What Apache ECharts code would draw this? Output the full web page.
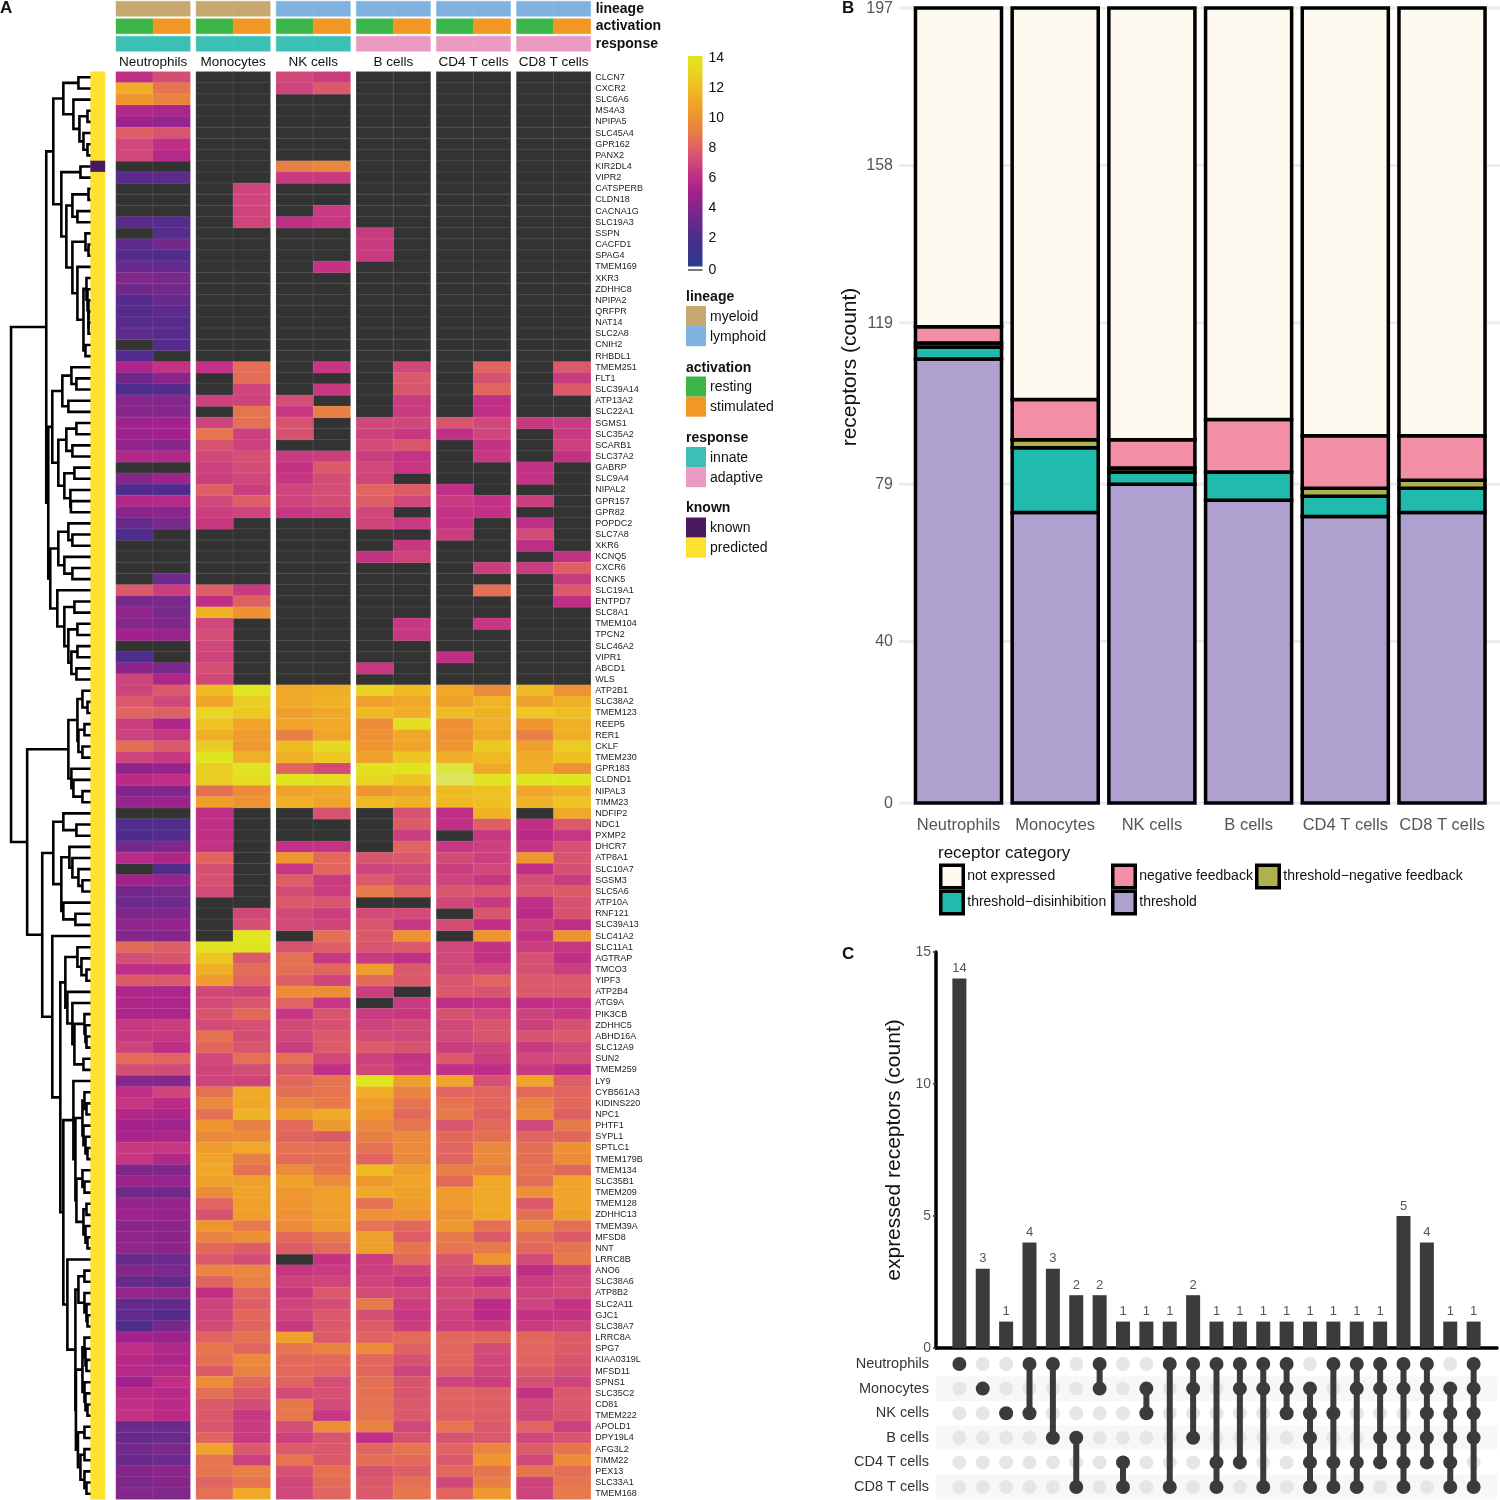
<!DOCTYPE html>
<html><head><meta charset="utf-8">
<style>html,body{margin:0;padding:0;background:#fff}#c{width:1500px;height:1500px}</style>
<script src="https://cdn.jsdelivr.net/npm/echarts@6/dist/echarts.min.js"></script>
</head><body><div id="c"></div>
<script>
const FONT = '"Liberation Sans", Arial, sans-serif';
const cellTypes = ['Neutrophils','Monocytes','NK cells','B cells','CD4 T cells','CD8 T cells'];
const lineage = ['myeloid','myeloid','lymphoid','lymphoid','lymphoid','lymphoid'];
const response = ['innate','innate','innate','adaptive','adaptive','adaptive'];
const activation = ['resting','stimulated'];
const annotationTracks = ['lineage','activation','response'];
const knownGenes = ['KIR2DL4'];
const genes = ['CLCN7','CXCR2','SLC6A6','MS4A3','NPIPA5','SLC45A4','GPR162','PANX2','KIR2DL4','VIPR2','CATSPERB','CLDN18','CACNA1G','SLC19A3','SSPN','CACFD1','SPAG4','TMEM169','XKR3','ZDHHC8','NPIPA2','QRFPR','NAT14','SLC2A8','CNIH2','RHBDL1','TMEM251','FLT1','SLC39A14','ATP13A2','SLC22A1','SGMS1','SLC35A2','SCARB1','SLC37A2','GABRP','SLC9A4','NIPAL2','GPR157','GPR82','POPDC2','SLC7A8','XKR6','KCNQ5','CXCR6','KCNK5','SLC19A1','ENTPD7','SLC8A1','TMEM104','TPCN2','SLC46A2','VIPR1','ABCD1','WLS','ATP2B1','SLC38A2','TMEM123','REEP5','RER1','CKLF','TMEM230','GPR183','CLDND1','NIPAL3','TIMM23','NDFIP2','NDC1','PXMP2','DHCR7','ATP8A1','SLC10A7','SGSM3','SLC5A6','ATP10A','RNF121','SLC39A13','SLC41A2','SLC11A1','AGTRAP','TMCO3','YIPF3','ATP2B4','ATG9A','PIK3CB','ZDHHC5','ABHD16A','SLC12A9','SUN2','TMEM259','LY9','CYB561A3','KIDINS220','NPC1','PHTF1','SYPL1','SPTLC1','TMEM179B','TMEM134','SLC35B1','TMEM209','TMEM128','ZDHHC13','TMEM39A','MFSD8','NNT','LRRC8B','ANO6','SLC38A6','ATP8B2','SLC2A11','GJC1','SLC38A7','LRRC8A','SPG7','KIAA0319L','MFSD11','SPNS1','SLC35C2','CD81','TMEM222','APOLD1','DPY19L4','AFG3L2','TIMM22','PEX13','SLC33A1','TMEM168'];
// log2 expression, gene by (cell type x resting/stimulated); 0 = not expressed
const expression = [
[6,7.2,0,0,7,6.6,0,0,0,0,0,0],
[11.2,8.6,0,0,6.8,7.6,0,0,0,0,0,0],
[10,9.2,0,0,0,0,0,0,0,0,0,0],
[5.5,5.3,0,0,0,0,0,0,0,0,0,0],
[4.8,4.6,0,0,0,0,0,0,0,0,0,0],
[7.8,7.5,0,0,0,0,0,0,0,0,0,0],
[7,6,0,0,0,0,0,0,0,0,0,0],
[7,5.6,0,0,0,0,0,0,0,0,0,0],
[0,0,0,0,9,9.3,0,0,0,0,0,0],
[2.5,2.6,0,0,6.5,6.5,0,0,0,0,0,0],
[0,0,0,6.9,0,0,0,0,0,0,0,0],
[0,0,0,6.9,0,0,0,0,0,0,0,0],
[0,0,0,6.9,0,6.5,0,0,0,0,0,0],
[2.5,2.4,0,6.9,5.9,6.3,0,0,0,0,0,0],
[0,2.3,0,0,0,0,6.5,0,0,0,0,0],
[2.7,3.4,0,0,0,0,6.5,0,0,0,0,0],
[2.3,2.2,0,0,0,0,6.5,0,0,0,0,0],
[3,2.9,0,0,0,6.2,0,0,0,0,0,0],
[3.8,3.6,0,0,0,0,0,0,0,0,0,0],
[3.3,3.3,0,0,0,0,0,0,0,0,0,0],
[2.3,3,0,0,0,0,0,0,0,0,0,0],
[2.3,2.6,0,0,0,0,0,0,0,0,0,0],
[2.4,2.4,0,0,0,0,0,0,0,0,0,0],
[2.6,2.4,0,0,0,0,0,0,0,0,0,0],
[0,2.4,0,0,0,0,0,0,0,0,0,0],
[2.2,0,0,0,0,0,0,0,0,0,0,0],
[5.3,6.2,6.1,8.4,0,6.3,0,7,0,8,0,7.6],
[3.3,4.2,0,8.3,0,0,0,7.6,0,7.4,0,6.5],
[2,2.3,0,6.9,0,6.4,0,7.5,0,8,0,7.6],
[4,4,6.7,6.8,7.2,0,0,6.5,0,6,0,0],
[4,4,0,8.6,6.4,9,0,6.5,0,6,0,0],
[4.9,5,6.8,8.5,7.4,0,7,7,7.5,7,6.4,6.5],
[4.9,5,8.6,6.7,7.4,0,6.8,6.4,6,7,0,6.5],
[4.4,4,7.4,6.7,0,0,7.1,7.5,0,6.2,0,6.7],
[5.5,5.5,7,7.3,6.5,6.6,6.6,6.2,0,6.4,0,6.1],
[0,0,6.7,7.2,6.2,7.6,7,6.3,0,0,6.1,0],
[4,4.7,6.6,7,6.3,7.2,6.9,0,0,0,6.2,0],
[2.2,2.2,7.8,6.6,6.9,7.2,8,7.7,6,0,0,0],
[5.5,5.6,7,7.8,6.8,7.2,7.8,7,6.5,6.1,6.6,0],
[4.2,4.2,6.6,6.9,6.3,6.6,7,0,6.1,6.1,0,0],
[3,3.6,6.4,0,0,0,6.9,6.5,6.2,0,5.9,0],
[2,0,0,0,0,0,0,0,6.6,0,7.1,0],
[0,0,0,0,0,0,0,6.4,0,0,5.9,0],
[0,0,0,0,0,0,6.2,6.9,0,0,0,6.1],
[0,0,0,0,0,0,0,0,0,6.6,6.5,7.8],
[0,3.2,0,0,0,0,0,0,0,0,0,6.5],
[7.6,6.6,7.8,6.5,0,0,0,0,0,8.4,0,7.6],
[3.6,3.6,6,7.9,0,0,0,0,0,0,0,6],
[4.4,3.6,11.4,9.8,0,0,0,0,0,0,0,0],
[4,3.8,7,0,0,0,0,6.4,0,6.3,0,0],
[5,4.6,7.2,0,0,0,0,6.4,0,0,0,0],
[0,0,7,0,0,0,0,0,0,0,0,0],
[2.1,0,6.8,0,0,0,0,0,6,0,0,0],
[4.2,3.6,7.3,0,0,0,6.4,0,0,0,0,0],
[6.8,5.4,7,0,0,0,0,0,0,0,0,0],
[6.8,7.6,11.8,14,11,11.2,12.8,11.8,11,9.5,11.8,9.8],
[7.6,7,10.8,12.6,11,11.4,10.6,11,10.7,11.5,10.7,11.3],
[8,7.9,13,12.4,10.5,11,11.8,11.2,11.8,11.4,12.3,11.9],
[6.6,5.4,12.2,10.8,10.8,11,9.6,13.5,9.8,11.3,10,11.3],
[6.8,6.4,11.3,10.3,9,10.8,9.8,11,9.8,11,9,11.3],
[8.4,7.6,12.6,10.2,11.8,13.2,10,10.8,10,12.4,10.5,12.5],
[6.8,6.4,14,11.3,11.3,12.4,10.6,12.2,11.2,11.7,11.1,12],
[4.3,4.5,12.6,14,8,7.1,13.7,14,14.5,11,11.2,9.8],
[5.8,6,12.6,13.3,14,13.4,13,12.2,15,13.8,14,14],
[3.9,3.9,8.4,9.6,10.7,11,10,10.7,11.8,12,10.8,11.3],
[4.6,4.8,10.6,9.9,11.3,10.8,11.7,11.4,11.7,12,11.4,12.2],
[0,0,6,0,0,7.4,0,7.4,6,11.4,0,11],
[2.2,2.2,6,0,0,0,0,7.7,6,7.8,6,7.6],
[2,2.2,6,0,0,0,0,6.6,0,6.4,5.8,6.3],
[3.4,3.8,6.2,0,6.1,6.2,0,8,6.3,6.7,6.2,7.3],
[5.7,5.4,8,0,10,8.2,7.5,7.6,7.1,6.7,10,7.5],
[0,2.1,7.3,0,6.3,8.1,6.8,7,6.6,7,6,7.3],
[5,4.6,7.4,0,7.8,6.5,7.6,7,6.8,6.4,7.2,6.6],
[3.4,3.5,7.1,0,7.2,6.6,8.8,7.9,7.5,7.5,7.5,7.7],
[3.2,3.2,0,0,7.6,7.5,0,0,7,6.5,6,7.4],
[3.8,3.8,0,7,7.1,6.6,7.1,7.1,0,7.5,5.8,7.4],
[4.4,4.5,0,7.3,7.1,6.9,7.5,6.3,7.2,6,6.6,5.9],
[3.9,3.9,0,14,0,8.4,7.6,9.8,0,10,6.1,9.9],
[8.3,7.8,13.8,14,7.4,7.8,7.5,7.6,7,6.2,6.6,6.3],
[7.2,7.5,12.3,7.6,8.5,6.4,6.5,6,7,6.1,7.3,6],
[5.9,6,11.3,8.3,8.4,8.1,10.5,7.6,7,6.8,7.3,6.6],
[7.7,7.6,10.3,8,7.8,6.9,8.3,7.6,7.5,8,7.6,7.6],
[5.4,5.3,7,6.8,9.6,9.7,6.6,0,7.6,7.5,7.6,7.6],
[5.4,5.3,7.1,7.5,8,6.3,0,6.5,5.9,6.2,6,6.2],
[5.4,5.3,7.5,8.2,6.3,7.5,6.5,6.4,7.4,7,6.8,6.4],
[6.4,6.6,7.1,7.3,7.1,7.3,6.8,7.1,7,7.5,6.7,7.3],
[6.4,6.4,8.5,7.2,7,7.6,7.1,7,7.1,7.5,7.4,7.6],
[6.8,5.9,8.1,7.5,6.6,7.7,7.6,7.4,6.6,6.8,6.5,7],
[8.3,8,7,8.4,8.4,7,6.7,6.2,7.6,6.6,7,7.2],
[7.2,7.1,6.9,7.2,7.6,6,7,6.3,6,5.9,6.5,5.9],
[4,4,6.8,6.8,8.1,8.6,14,10.6,10.8,7.3,10.8,7.8],
[5.9,6.9,8.5,11,8.4,8.6,11.2,9.2,8,8,8.2,8],
[6.3,5.8,9.4,11,9.2,8.8,10.4,8.6,8.6,8.1,9.2,8.2],
[5.5,5.4,8.5,11.5,10.2,11,10,8.2,8.8,7.9,9.6,7.9],
[5.1,4.9,10,9,8.2,10.2,9.4,8.6,7.5,8.2,7,8.8],
[5.2,5.4,9.5,9.6,8,7.7,9,9.5,8.2,8.4,8,8.1],
[6.4,6.3,10.3,11,8.5,8.5,8.5,9.5,8,9.4,8.4,9.8],
[6.3,5.5,10.8,9,8.3,8.4,8,9.4,8,9.4,8.4,9.6],
[3.8,3.8,11,8.5,9.6,8.6,11.8,10.5,9,9,8.6,8.2],
[4.8,4.6,10.7,10.6,10.7,9.6,10.2,10.8,8.2,11,8.3,10.8],
[3.3,3.3,9.6,10.8,10,10.6,11,10.7,10.3,11,9.8,10.8],
[4.5,4.5,8,10.6,10,10.5,8.5,10.4,10.3,11,7.6,10.8],
[4.8,4.6,7.4,10.5,9.8,10.4,9.8,10,9.8,11,8.4,10.6],
[4.2,4.2,10,8.8,9.6,10.3,8.6,8.1,10.2,8.4,9.4,8.4],
[4.4,4.2,9.2,9.8,8.2,8.8,10.5,7.8,8.8,7.7,8.4,7.7],
[4.3,4.2,8.2,7.8,7.7,8.3,10.5,8.6,8.6,8.8,8.2,8.6],
[3,3.2,7.6,7.2,0,6.2,6.6,8.2,7.5,9.9,7.1,8.8],
[4,3.7,9.3,9.3,6.3,6.5,6.6,6.9,7.3,7.2,5.9,6.8],
[3,2.8,8,9.1,6.8,6.9,6.9,6.4,6.9,6.2,6.6,7],
[4.6,4.4,6,8,6.4,7.6,7.1,7,7.1,7.2,6.8,7.1],
[2.8,2.9,6.8,7.8,6.9,7.2,8.8,6.6,7,5.8,6.8,6.2],
[2.8,2.4,6.8,8.1,6.8,7.6,7.3,6.3,6.7,5.8,6.2,6.2],
[2,3.5,7.1,8,6.4,7.6,7.7,6.6,6.7,6.5,6.5,6.8],
[5,4.8,8,8.5,10.5,7.7,8,8.3,8.1,8.1,8.1,7.7],
[5.9,5.5,8.7,8,8.6,9.2,9.5,7.9,8,7.2,8,7.7],
[5.7,5.3,8.4,9.4,8.2,8.2,8.1,7.4,8.1,7,8,7.5],
[5.6,5.6,7.7,9.2,8.2,8,8.1,6.8,7.8,6.9,7.7,7.3],
[5,6,9.6,8.2,8,7.2,8.4,7.5,6.9,6.6,7.3,6.8],
[5.8,5.7,8.4,7.6,7.1,7.3,8.5,7.5,8,7.9,6.2,7.6],
[6,5.8,7.6,7.2,8.7,7.1,8.5,7.6,7.9,7.8,7,7.6],
[6.1,5.8,7.6,6.4,8.7,6.4,8.6,7.6,7.8,7.8,7,7.5],
[3.1,3.1,7.5,6.5,7.2,9.7,9.2,7,8.6,7.6,8,6.7],
[3,3.1,8,6.5,6.7,7.5,6,7.4,7.4,7.6,7,7.5],
[3.4,3.7,10.8,7.6,7.6,7.6,8,8.6,8,9.3,7.7,8.6],
[3.1,3.2,8.6,6.7,8.6,7.6,8.4,8.2,7.6,10,7,9.6],
[4,4.2,8.6,9,7.3,8.5,7.4,7.8,8.2,8.6,8.6,8.4],
[3.7,4,8,8.6,7,8.3,7.6,8.4,7,9,6.8,8.6],
[3.9,3.8,8.4,11,7,8,7.6,8.7,8,10.2,6.8,8.8]
];
// Dendrogram merges: [height, child, child]; L = a leaf, in row order
const L = 0;
const clusterA1 = [27,[12,L,L],[17,L,[11,[3,L,L],[7,L,[3,L,L]]]]];
const clusterA2 = [29,[10,L,L],[24,[18,[2,L,L],[13,L,L]],[18,[5,L,[2,L,L]],[13,L,[7,[4,L,[3,L,[2,L,[2,L,[2,L,L]]]]],[5,L,L]]]]]];
const clusterB = [38,[28,[19,L,[14,L,L]],[22,L,L]],[32,[24,[14,L,L],[18,L,L]],[26,[16,L,L],[20,L,[19.5,L,L]]]]];
const clusterC = [40,[32,[22,L,[18,L,L]],[26,L,[18,L,L]]],[33,L,[26,[16,L,L],[22,[13,L,L],[19,[13,L,L],[14,L,L]]]]]];
const clusterD = [22,[13,[8,L,[3,L,L]],[12,[6,L,L],[8,L,L]]],[19,L,[17,L,[8,L,L]]]];
const clusterE = [37,[27,L,[14,L,L]],[29,[21,L,[18,L,[12,L,[8,L,L]]]],[27,L,[15,L,L]]]];
const clusterF = [25,[13,L,[9,L,[4,L,L]]],[23,L,[18,L,[16,[6,L,[5,L,[4,L,L]]],[7,L,L]]]]];
const clusterG1 = [17,L,[15,[8,[6,L,[4,L,L]],[7,L,[5,L,[3,L,L]]]],[14,[8,L,[6,L,L]],[7,[4,L,L],[5,L,[3,L,L]]]]]];
const clusterG2 = [23,L,[15,[12,[6,L,L],[6,L,[4,L,[3,L,L]]]],[14.5,[8,[6,L,[5,L,[4,L,L]]],[6,L,[5,L,[3,L,L]]]],[12.5,[6,L,L],[10,[6,L,L],[6,L,[4,L,L]]]]]]];
const dendroRoot = [79,[44,[37,clusterA1,clusterA2],[42,clusterB,clusterC]],[63,clusterD,[48,clusterE,[38,L,[30,clusterF,[27,clusterG1,clusterG2]]]]]];
// Panel B
const thresholdCounts = [110,72,79,75,71,72];
const disinhibitionCounts = [3,16,3,7,5,6];
const thresholdNegCounts = [1,2,1,0,2,2];
const negativeCounts = [4,10,7,13,13,11];
const notExpressedCounts = [79,97,107,102,106,106];
const receptorTicks = [0,40,79,119,158,197];
// Panel C
const intersectionCounts = [14,3,1,4,3,2,2,1,1,1,2,1,1,1,1,1,1,1,1,5,4,1,1];
const intersectionSets = [[0],[1],[2],[0,2],[0,3],[3,5],[0,1],[4,5],[1,2],[0,5],[0,1,3],[0,4,5],[0,1,4],[0,1,5],[0,1,2],[1,2,3,4,5],[0,2,4,5],[0,1,4,5],[0,1,3,4],[0,1,3,4,5],[0,1,2,3,4],[1,2,3,4,5],[0,1,2,3,5]];
// Colours
const heatStops = ['#2c3e90','#3c338e','#4d2c8c','#672a8b','#85268b','#a3218c','#c12e85','#d0487a','#e0645f','#e87f45','#ee9530','#f0a828','#eec021','#e8d622','#dfe51f','#dde45a'];
const annotationColors = {myeloid:'#c8a871',lymphoid:'#7fb2e0',resting:'#3cb54a',stimulated:'#f29723',innate:'#3cc0b5',adaptive:'#eb9ac2',known:'#4a1a5e',predicted:'#fde12e'};
const categoryColors = {threshold:'#aea0cf',disinhibition:'#20bbad',thresholdNeg:'#aeb24d',negative:'#f28ea5',notExpressed:'#fffaf0'};

const grid=[],xAxis=[],yAxis=[],series=[];
const heatTop=71.7, heatH=1427.6;
const heatSeriesIdx=[], zeroSeriesIdx=[];
function addGrid(g,x,y){grid.push(g);const i=grid.length-1;xAxis.push(Object.assign({gridIndex:i},x));yAxis.push(Object.assign({gridIndex:i},y));return i;}
const noAxis={axisLine:{show:false},axisTick:{show:false},axisLabel:{show:false},splitLine:{show:false}};

cellTypes.forEach((ct,g)=>{
  const left=116+80.1*g;
  const last=g===cellTypes.length-1;
  const gi=addGrid({left,top:heatTop,width:74.2,height:heatH},
    Object.assign({},noAxis,{type:'category',data:activation,position:'top',name:ct,nameLocation:'middle',nameGap:2.5,nameTextStyle:{fontFamily:FONT,fontSize:13.5,color:'#111'}}),
    Object.assign({},noAxis,{type:'category',data:genes,inverse:true,position:'right',
      axisLabel:{show:last,interval:0,fontFamily:FONT,fontSize:9,color:'#222',margin:4.5,padding:[2,0,0,0]}}));
  const nz=[],z=[];
  genes.forEach((_,r)=>{[0,1].forEach(c=>{const v=expression[r][g*2+c];(v>0?nz:z).push([c,r,v]);});});
  const border={borderColor:'rgba(255,255,255,0.16)',borderWidth:0.6};
  series.push({type:'heatmap',xAxisIndex:gi,yAxisIndex:gi,data:z,progressive:0,itemStyle:border,emphasis:{disabled:true}});
  zeroSeriesIdx.push(series.length-1);
  series.push({type:'heatmap',xAxisIndex:gi,yAxisIndex:gi,data:nz,progressive:0,itemStyle:border,emphasis:{disabled:true}});
  heatSeriesIdx.push(series.length-1);
});
// annotation tracks
function cellRender(rows,hFrac){return function(params,api){
  const row=rows[params.dataIndex];
  const c=api.coord([row[0],row[1]]),s=api.size([1,1]);
  const h=hFrac?hFrac:s[1];
  const col=annotationColors[row[2]];
  return {type:'rect',shape:{x:c[0]-s[0]/2,y:c[1]-h/2,width:s[0],height:h},style:{fill:col,stroke:col,lineWidth:0.4}};
};}
cellTypes.forEach((ct,g)=>{
  const last=g===cellTypes.length-1;
  const gi=addGrid({left:116+80.1*g,top:-1.5,width:74.2,height:54},
    Object.assign({},noAxis,{type:'category',data:activation}),
    Object.assign({},noAxis,{type:'category',data:annotationTracks,inverse:true,position:'right',
      axisLabel:{show:last,interval:0,fontFamily:FONT,fontSize:14,fontWeight:'bold',color:'#111',margin:5,padding:[2,0,0,0]}}));
  const rows=[];
  [0,1].forEach(c=>{rows.push([c,0,lineage[g]]);rows.push([c,1,activation[c]]);rows.push([c,2,response[g]]);});
  series.push({type:'custom',xAxisIndex:gi,yAxisIndex:gi,data:rows.map(r=>[r[0],r[1]]),encode:{x:0,y:1},renderItem:cellRender(rows,15),silent:true});
});
// known strip
{
  const gi=addGrid({left:90.5,top:heatTop,width:14.5,height:heatH},
    Object.assign({},noAxis,{type:'category',data:['known']}),
    Object.assign({},noAxis,{type:'category',data:genes,inverse:true}));
  const rows=genes.map((n,r)=>[0,r,knownGenes.includes(n)?'known':'predicted']);
  series.push({type:'custom',xAxisIndex:gi,yAxisIndex:gi,data:rows.map(r=>[r[0],r[1]]),encode:{x:0,y:1},renderItem:cellRender(rows),silent:true});
}
// dendrogram
{
  const segs=[];let leaf=0;
  (function walk(n){
    if(!Array.isArray(n)){const y=leaf+0.5;leaf++;return {h:0,y};}
    const a=walk(n[1]),b=walk(n[2]);
    segs.push([n[0],a.y,b.y,a.h,b.h]);
    return {h:n[0],y:(a.y+b.y)/2};
  })(dendroRoot);
  const gi=addGrid({left:0,top:heatTop,width:90.5,height:heatH},
    Object.assign({},noAxis,{type:'value',min:0,max:90,inverse:true}),
    Object.assign({},noAxis,{type:'value',min:0,max:genes.length,inverse:true}));
  series.push({type:'custom',xAxisIndex:gi,yAxisIndex:gi,data:segs,encode:{x:[0,3,4],y:[1,2]},clip:false,silent:true,
    renderItem(p,api){
      const h=api.value(0),y1=api.value(1),y2=api.value(2),h1=api.value(3),h2=api.value(4);
      return {type:'polyline',shape:{points:[api.coord([h1,y1]),api.coord([h,y1]),api.coord([h,y2]),api.coord([h2,y2])]},
        style:{stroke:'#000',fill:null,lineWidth:2.6}};
    }});
}
// colour bar
{
  const gi=addGrid({left:688,top:58.6,width:14.5,height:209},
    Object.assign({},noAxis,{type:'value',min:0,max:1}),
    Object.assign({},noAxis,{type:'value',min:0,max:14,interval:2,position:'right',
      axisLabel:{show:true,fontFamily:FONT,fontSize:14,color:'#111',margin:6,
        formatter:v=>v===0?'{z|0}':String(v),rich:{z:{fontFamily:FONT,fontSize:14,color:'#111',padding:[4.8,0,0,0]}}}}));
  const stops=heatStops.slice(0,15).map((c,i)=>({offset:1-i/14,color:c})).reverse();
  series.push({type:'custom',xAxisIndex:gi,yAxisIndex:gi,data:[[0,14.17,0.08]],encode:{x:0,y:[1,2]},clip:false,silent:true,
    renderItem(p,api){
      const a=api.coord([0,api.value(1)]),b=api.coord([1,api.value(2)]);
      return {type:'rect',shape:{x:a[0],y:a[1],width:b[0]-a[0],height:b[1]-a[1]},
        style:{fill:{type:'linear',x:0,y:0,x2:0,y2:1,colorStops:stops}}};
    }});
  series.push({type:'custom',xAxisIndex:gi,yAxisIndex:gi,data:[[0,0]],encode:{x:0,y:1},clip:false,silent:true,
    renderItem(p,api){
      const a=api.coord([0,0]),b=api.coord([1,0]);
      return {type:'rect',shape:{x:a[0],y:a[1]+1.6,width:b[0]-a[0],height:1.6},style:{fill:'#555'}};
    }});
}
// Panel B
{
  // axis title: its centre sits above the panel centre, as in the reference
  addGrid({left:899,top:8,width:601,height:718},
    Object.assign({},noAxis,{type:'value',min:0,max:1}),
    Object.assign({},noAxis,{type:'value',min:0,max:197,
      name:'receptors (count)',nameLocation:'middle',nameRotate:90,nameGap:38,nameTextStyle:{fontFamily:FONT,fontSize:21,color:'#111'}}));
  const gi=addGrid({left:899,top:8,width:601,height:795},
    Object.assign({},noAxis,{type:'value',min:0,max:1}),
    Object.assign({},noAxis,{type:'value',min:0,max:197}));
  series.push({type:'custom',xAxisIndex:gi,yAxisIndex:gi,data:receptorTicks.map(t=>[0,t]),encode:{x:0,y:1},clip:false,silent:true,z:1,
    renderItem(p,api){
      const v=api.value(1),a=api.coord([0,v]),b=api.coord([1,v]);
      return {type:'group',children:[
        {type:'line',shape:{x1:a[0],y1:a[1],x2:b[0],y2:b[1]},style:{stroke:'#ececec',lineWidth:3}},
        {type:'text',style:{text:String(v),x:a[0]-6,y:a[1]+0.5,align:'right',verticalAlign:'middle',font:'16px '+FONT,fill:'#555'}}
      ]};
    }});
  const bi=addGrid({left:910.15,top:8,width:580.2,height:795},
    Object.assign({},noAxis,{type:'category',data:cellTypes,axisLabel:{show:true,interval:0,fontFamily:FONT,fontSize:16.5,color:'#555',margin:14}}),
    Object.assign({},noAxis,{type:'value',min:0,max:197}));
  const stack=[['threshold',thresholdCounts,categoryColors.threshold],['threshold\u2212disinhibition',disinhibitionCounts,categoryColors.disinhibition],['threshold\u2212negative feedback',thresholdNegCounts,categoryColors.thresholdNeg],['negative feedback',negativeCounts,categoryColors.negative],['not expressed',notExpressedCounts,categoryColors.notExpressed]];
  const base=cellTypes.map(()=>0);
  stack.forEach((s,si)=>{
    const d=[];
    s[1].forEach((v,c)=>{ if(v>0) d.push([c,base[c],base[c]+v]); base[c]+=v; });
    series.push({type:'custom',name:s[0],xAxisIndex:bi,yAxisIndex:bi,data:d,encode:{x:0,y:[1,2]},clip:false,silent:true,z:3+si,
      itemStyle:{color:s[2]},
      renderItem(p,api){
        const a=api.coord([api.value(0),api.value(2)]),b=api.coord([api.value(0),api.value(1)]);
        const w=api.size([1,0])[0]*0.89;
        return {type:'rect',shape:{x:a[0]-w/2,y:a[1],width:w,height:b[1]-a[1]},style:{fill:s[2],stroke:'#000',lineWidth:3.5}};
      }});
  });
}
// Panel C
{
  const gi=addGrid({left:936,top:952,width:561,height:396},
    {type:'value',min:0,max:24,axisLine:{show:true,onZero:false,lineStyle:{color:'#000',width:3.5}},axisTick:{show:false},axisLabel:{show:false},splitLine:{show:false}},
    {type:'value',min:0,max:15,interval:5,axisLine:{show:true,lineStyle:{color:'#000',width:3.5}},axisTick:{show:true,length:3,lineStyle:{color:'#333',width:1.5}},
     axisLabel:{fontFamily:FONT,fontSize:14,color:'#555',margin:5},splitLine:{show:false},
     name:'expressed receptors (count)',nameLocation:'middle',nameRotate:90,nameGap:31,nameTextStyle:{fontFamily:FONT,fontSize:21,color:'#111'}});
  series.push({type:'bar',xAxisIndex:gi,yAxisIndex:gi,data:intersectionCounts.map((v,i)=>[i+1,v]),barWidth:14,
    itemStyle:{color:'#3b3b3b'},label:{show:true,position:'top',distance:3.5,fontFamily:FONT,fontSize:13,color:'#555',formatter:p=>p.value[1]},emphasis:{disabled:true}});
  const mi=addGrid({left:936,top:1351.7,width:561,height:147.6},
    Object.assign({},noAxis,{type:'value',min:0,max:24}),
    {type:'category',data:cellTypes,inverse:true,axisLine:{show:false},axisTick:{show:false},splitLine:{show:false},
     splitArea:{show:true,interval:0,areaStyle:{color:['#ffffff','#f7f7f7']}},
     axisLabel:{interval:0,fontFamily:FONT,fontSize:14.5,color:'#333',margin:7}});
  const off=[],on=[],links=[];
  intersectionSets.forEach((s,i)=>{
    cellTypes.forEach((_,r)=>{(s.includes(r)?on:off).push([i+1,r]);});
    links.push([i+1,Math.min(...s),Math.max(...s)]);
  });
  series.push({type:'scatter',xAxisIndex:mi,yAxisIndex:mi,data:off,symbolSize:14,itemStyle:{color:'#e6e6e6',opacity:1},silent:true,z:2});
  series.push({type:'custom',xAxisIndex:mi,yAxisIndex:mi,data:links,encode:{x:0,y:[1,2]},silent:true,z:3,
    renderItem(p,api){
      const a=api.coord([api.value(0),api.value(1)]),b=api.coord([api.value(0),api.value(2)]);
      return {type:'line',shape:{x1:a[0],y1:a[1],x2:b[0],y2:b[1]},style:{stroke:'#3b3b3b',lineWidth:6}};
    }});
  series.push({type:'scatter',xAxisIndex:mi,yAxisIndex:mi,data:on,symbolSize:14,itemStyle:{color:'#3b3b3b',opacity:1},silent:true,z:4});
}
// Text and legend keys
function txt(text,x,y,font,fill,extra){return Object.assign({type:'text',silent:true,style:{text,x,y,font:font+' '+FONT,fill:fill||'#111',align:'left',textAlign:'left',verticalAlign:'middle',textVerticalAlign:'middle'}},extra||{});}
function key(color,x,y,w,h){return {type:'rect',silent:true,shape:{x,y,width:w,height:h},style:{fill:color}};}
const graphics=[
  txt('A',0,8,'bold 17px'),txt('B',842,8,'bold 17px'),txt('C',842,954,'bold 17px'),
  txt('receptor category',938,853,'17px')
];
[['lineage',297,['myeloid','lymphoid'],306],['activation',368,['resting','stimulated'],376.5],['response',438,['innate','adaptive'],447],['known',508,['known','predicted'],517.5]].forEach(b=>{
  graphics.push(txt(b[0],686,b[1],'bold 14px'));
  b[2].forEach((n,i)=>{
    graphics.push(key(annotationColors[n],686,b[3]+i*20.1,20,20.1));
    graphics.push(txt(n,710,b[3]+i*20.1+11,'14px'));
  });
});
function legendCol(left,names){return {left,top:863.5,padding:0,orient:'vertical',data:names,icon:'rect',itemWidth:22.5,itemHeight:22.5,itemGap:0,selectedMode:false,
  itemStyle:{borderColor:'#000',borderWidth:3.5},textStyle:{fontFamily:FONT,fontSize:14,color:'#111',padding:[0,0,0,-1]}};}
const option={
  animation:false,backgroundColor:'#fff',textStyle:{fontFamily:FONT},
  grid,xAxis,yAxis,series,
  visualMap:[
    {show:false,type:'continuous',min:0,max:15,seriesIndex:heatSeriesIdx,inRange:{color:heatStops}},
    {show:false,type:'continuous',min:0,max:1,seriesIndex:zeroSeriesIdx,inRange:{color:['#333333','#333333']}}
  ],
  legend:[legendCol(939,['not expressed','threshold\u2212disinhibition']),legendCol(1111,['negative feedback','threshold']),legendCol(1255,['threshold\u2212negative feedback'])],
  graphic:{elements:graphics}
};
echarts.init(document.getElementById('c'),null,{renderer:'canvas',width:1500,height:1500}).setOption(option);
</script></body></html>
